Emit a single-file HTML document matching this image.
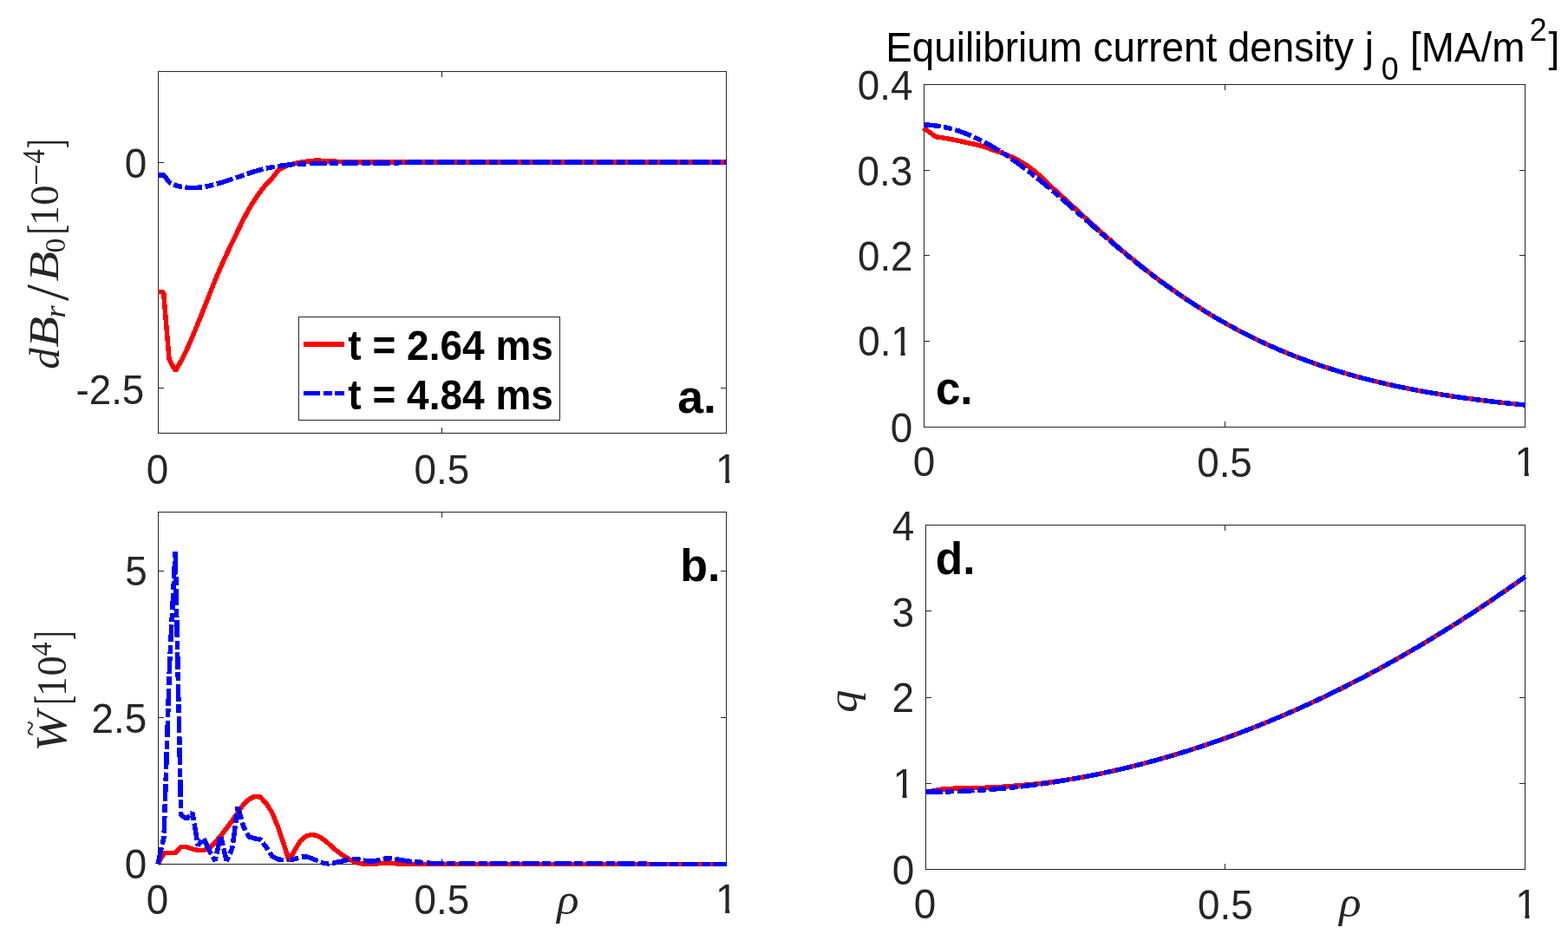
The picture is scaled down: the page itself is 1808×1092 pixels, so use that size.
<!DOCTYPE html>
<html lang="en"><head><meta charset="utf-8"><title>Equilibrium profiles</title>
<style>
html,body{margin:0;padding:0;background:#fff;}
body{width:1808px;height:1092px;overflow:hidden;}
svg{display:block;font-kerning:none;}
</style></head><body>
<svg width="1808" height="1092" viewBox="0 0 1808 1092" role="img" aria-label="Four-panel figure: radial magnetic perturbation, fluctuation energy, equilibrium current density and safety factor versus rho">
<defs><clipPath id="one0"><rect x="-5.00" y="-60.00" width="400.00" height="55.52"/><rect x="-5.00" y="-4.48" width="7.29" height="16.48"/><rect x="11.12" y="-4.48" width="5.05" height="16.48"/><rect x="24.45" y="-4.48" width="400.00" height="16.48"/></clipPath><clipPath id="one1"><rect x="-5.00" y="-60.00" width="400.00" height="55.52"/><rect x="-5.00" y="-4.48" width="45.51" height="16.48"/><rect x="49.35" y="-4.48" width="5.05" height="16.48"/><rect x="62.67" y="-4.48" width="400.00" height="16.48"/></clipPath></defs>
<rect width="1808" height="1092" fill="#ffffff"/>
<g stroke="#262626" stroke-width="1" fill="none" shape-rendering="crispEdges"><rect x="182.5" y="82.5" width="655.0" height="417.0"/><line x1="509.5" y1="499.5" x2="509.5" y2="493.0"/><line x1="509.5" y1="82.5" x2="509.5" y2="89.0"/><line x1="182.5" y1="187.5" x2="189.0" y2="187.5"/><line x1="837.5" y1="187.5" x2="831.0" y2="187.5"/><line x1="182.5" y1="447.5" x2="189.0" y2="447.5"/><line x1="837.5" y1="447.5" x2="831.0" y2="447.5"/></g>
<g stroke="#262626" stroke-width="1" fill="none" shape-rendering="crispEdges"><rect x="182.5" y="590.5" width="655.0" height="406.0"/><line x1="509.5" y1="996.5" x2="509.5" y2="990.0"/><line x1="509.5" y1="590.5" x2="509.5" y2="597.0"/><line x1="182.5" y1="658.5" x2="189.0" y2="658.5"/><line x1="837.5" y1="658.5" x2="831.0" y2="658.5"/><line x1="182.5" y1="827.5" x2="189.0" y2="827.5"/><line x1="837.5" y1="827.5" x2="831.0" y2="827.5"/></g>
<g stroke="#262626" stroke-width="1" fill="none" shape-rendering="crispEdges"><rect x="1065.5" y="97.5" width="693.0" height="395.0"/><line x1="1412.5" y1="492.5" x2="1412.5" y2="486.0"/><line x1="1412.5" y1="97.5" x2="1412.5" y2="104.0"/><line x1="1065.5" y1="393.5" x2="1072.0" y2="393.5"/><line x1="1758.5" y1="393.5" x2="1752.0" y2="393.5"/><line x1="1065.5" y1="294.5" x2="1072.0" y2="294.5"/><line x1="1758.5" y1="294.5" x2="1752.0" y2="294.5"/><line x1="1065.5" y1="196.5" x2="1072.0" y2="196.5"/><line x1="1758.5" y1="196.5" x2="1752.0" y2="196.5"/></g>
<g stroke="#262626" stroke-width="1" fill="none" shape-rendering="crispEdges"><rect x="1067.5" y="605.5" width="691.0" height="397.0"/><line x1="1412.5" y1="1002.5" x2="1412.5" y2="996.0"/><line x1="1412.5" y1="605.5" x2="1412.5" y2="612.0"/><line x1="1067.5" y1="903.5" x2="1074.0" y2="903.5"/><line x1="1758.5" y1="903.5" x2="1752.0" y2="903.5"/><line x1="1067.5" y1="804.5" x2="1074.0" y2="804.5"/><line x1="1758.5" y1="804.5" x2="1752.0" y2="804.5"/><line x1="1067.5" y1="704.5" x2="1074.0" y2="704.5"/><line x1="1758.5" y1="704.5" x2="1752.0" y2="704.5"/></g>
<g shape-rendering="crispEdges">
<path d="M182.00,336.50 L188.60,336.50 L195.00,414.20 L202.30,427.60 L204.43,424.01 L206.55,420.26 L208.68,416.34 L210.80,412.27 L212.93,408.06 L215.06,403.71 L217.18,399.16 L219.31,394.36 L221.43,389.36 L223.56,384.24 L225.69,379.05 L227.81,373.85 L229.94,368.70 L232.07,363.49 L234.19,358.19 L236.32,352.82 L238.44,347.42 L240.57,341.99 L242.70,336.59 L244.82,331.22 L246.95,325.91 L249.07,320.69 L251.20,315.59 L253.33,310.63 L255.45,305.81 L257.58,301.11 L259.70,296.51 L261.83,291.99 L263.96,287.52 L266.08,283.11 L268.21,278.71 L270.33,274.28 L272.46,269.83 L274.59,265.39 L276.71,260.99 L278.84,256.66 L280.97,252.42 L283.09,248.31 L285.22,244.35 L287.34,240.57 L289.47,236.99 L291.60,233.58 L293.72,230.30 L295.85,227.14 L297.97,224.10 L300.10,221.18 L302.23,218.38 L304.35,215.70 L306.48,213.20 L308.60,210.88 L310.73,208.65 L312.86,206.41 L314.98,204.04 L317.11,201.33 L319.23,198.59 L321.36,196.32 L323.49,194.77 L325.61,193.51 L327.74,192.46 L329.87,191.55 L331.99,190.76 L334.12,190.06 L336.24,189.45 L338.37,188.91 L340.50,188.43 L342.62,187.99 L344.75,187.59 L346.87,187.22 L349.00,186.86 L351.13,186.52 L353.25,186.21 L355.38,185.96 L357.50,185.72 L359.63,185.49 L361.76,185.29 L363.88,185.15 L366.01,185.10 L368.13,185.14 L370.26,185.25 L372.39,185.40 L374.51,185.57 L376.64,185.72 L378.77,185.84 L380.89,185.94 L383.02,186.05 L385.14,186.15 L387.27,186.24 L389.40,186.32 L391.52,186.39 L393.65,186.44 L395.77,186.50 L397.90,186.55 L400.03,186.60 L402.15,186.65 L404.28,186.69 L406.40,186.73 L408.53,186.77 L410.66,186.81 L412.78,186.84 L414.91,186.86 L417.03,186.88 L419.16,186.90 L421.29,186.91 L423.41,186.92 L425.54,186.92 L427.67,186.93 L429.79,186.94 L431.92,186.95 L434.04,186.96 L436.17,186.96 L438.30,186.97 L440.42,186.97 L442.55,186.98 L444.67,186.98 L446.80,186.99 L448.93,186.99 L451.05,186.99 L453.18,187.00 L455.30,187.00 L457.43,187.00 L459.56,187.00 L461.68,187.00 L463.81,187.00 L465.93,187.00 L468.06,187.00 L470.19,187.00 L472.31,187.00 L474.44,187.00 L476.57,187.00 L478.69,187.00 L480.82,187.00 L482.94,187.00 L485.07,187.00 L487.20,187.00 L489.32,187.00 L491.45,187.00 L493.57,187.00 L495.70,187.00 L497.83,187.00 L499.95,187.00 L502.08,187.00 L504.20,187.00 L506.33,187.00 L508.46,187.00 L510.58,187.00 L512.71,187.00 L514.83,187.00 L516.96,187.00 L519.09,187.00 L521.21,187.00 L523.34,187.00 L525.47,187.00 L527.59,187.00 L529.72,187.00 L531.84,187.00 L533.97,187.00 L536.10,187.00 L538.22,187.00 L540.35,187.00 L542.47,187.00 L544.60,187.00 L546.73,187.00 L548.85,187.00 L550.98,187.00 L553.10,187.00 L555.23,187.00 L557.36,187.00 L559.48,187.00 L561.61,187.00 L563.73,187.00 L565.86,187.00 L567.99,187.00 L570.11,187.00 L572.24,187.00 L574.37,187.00 L576.49,187.00 L578.62,187.00 L580.74,187.00 L582.87,187.00 L585.00,187.00 L587.12,187.00 L589.25,187.00 L591.37,187.00 L593.50,187.00 L595.63,187.00 L597.75,187.00 L599.88,187.00 L602.00,187.00 L604.13,187.00 L606.26,187.00 L608.38,187.00 L610.51,187.00 L612.63,187.00 L614.76,187.00 L616.89,187.00 L619.01,187.00 L621.14,187.00 L623.27,187.00 L625.39,187.00 L627.52,187.00 L629.64,187.00 L631.77,187.00 L633.90,187.00 L636.02,187.00 L638.15,187.00 L640.27,187.00 L642.40,187.00 L644.53,187.00 L646.65,187.00 L648.78,187.00 L650.90,187.00 L653.03,187.00 L655.16,187.00 L657.28,187.00 L659.41,187.00 L661.53,187.00 L663.66,187.00 L665.79,187.00 L667.91,187.00 L670.04,187.00 L672.17,187.00 L674.29,187.00 L676.42,187.00 L678.54,187.00 L680.67,187.00 L682.80,187.00 L684.92,187.00 L687.05,187.00 L689.17,187.00 L691.30,187.00 L693.43,187.00 L695.55,187.00 L697.68,187.00 L699.80,187.00 L701.93,187.00 L704.06,187.00 L706.18,187.00 L708.31,187.00 L710.43,187.00 L712.56,187.00 L714.69,187.00 L716.81,187.00 L718.94,187.00 L721.07,187.00 L723.19,187.00 L725.32,187.00 L727.44,187.00 L729.57,187.00 L731.70,187.00 L733.82,187.00 L735.95,187.00 L738.07,187.00 L740.20,187.00 L742.33,187.00 L744.45,187.00 L746.58,187.00 L748.70,187.00 L750.83,187.00 L752.96,187.00 L755.08,187.00 L757.21,187.00 L759.33,187.00 L761.46,187.00 L763.59,187.00 L765.71,187.00 L767.84,187.00 L769.97,187.00 L772.09,187.00 L774.22,187.00 L776.34,187.00 L778.47,187.00 L780.60,187.00 L782.72,187.00 L784.85,187.00 L786.97,187.00 L789.10,187.00 L791.23,187.00 L793.35,187.00 L795.48,187.00 L797.60,187.00 L799.73,187.00 L801.86,187.00 L803.98,187.00 L806.11,187.00 L808.23,187.00 L810.36,187.00 L812.49,187.00 L814.61,187.00 L816.74,187.00 L818.87,187.00 L820.99,187.00 L823.12,187.00 L825.24,187.00 L827.37,187.00 L829.50,187.00 L831.62,187.00 L833.75,187.00 L835.87,187.00 L838.00,187.00" fill="none" stroke="#ff0000" stroke-width="5.5" stroke-linejoin="bevel" stroke-linecap="butt"/>
<path d="M182.00,201.90 L189.00,201.90 L195.00,210.20 L197.15,211.45 L199.30,212.54 L201.45,213.42 L203.60,214.09 L205.75,214.67 L207.90,215.15 L210.05,215.51 L212.20,215.80 L214.35,216.07 L216.51,216.31 L218.66,216.48 L220.81,216.58 L222.96,216.59 L225.11,216.51 L227.26,216.36 L229.41,216.16 L231.56,215.92 L233.71,215.66 L235.86,215.39 L238.01,215.03 L240.16,214.58 L242.31,214.07 L244.46,213.51 L246.61,212.92 L248.76,212.33 L250.91,211.75 L253.06,211.14 L255.21,210.49 L257.36,209.81 L259.52,209.12 L261.67,208.42 L263.82,207.72 L265.97,207.03 L268.12,206.31 L270.27,205.59 L272.42,204.86 L274.57,204.13 L276.72,203.40 L278.87,202.68 L281.02,201.96 L283.17,201.23 L285.32,200.48 L287.47,199.74 L289.62,199.01 L291.77,198.30 L293.92,197.61 L296.07,196.97 L298.22,196.38 L300.37,195.80 L302.53,195.24 L304.68,194.70 L306.83,194.19 L308.98,193.70 L311.13,193.24 L313.28,192.81 L315.43,192.43 L317.58,192.06 L319.73,191.72 L321.88,191.39 L324.03,191.08 L326.18,190.80 L328.33,190.55 L330.48,190.32 L332.63,190.12 L334.78,189.92 L336.93,189.73 L339.08,189.55 L341.23,189.39 L343.38,189.24 L345.54,189.11 L347.69,189.00 L349.84,188.91 L351.99,188.83 L354.14,188.76 L356.29,188.70 L358.44,188.64 L360.59,188.59 L362.74,188.54 L364.89,188.50 L367.04,188.45 L369.19,188.41 L371.34,188.38 L373.49,188.34 L375.64,188.30 L377.79,188.26 L379.94,188.23 L382.09,188.19 L384.24,188.16 L386.39,188.13 L388.55,188.10 L390.70,188.07 L392.85,188.05 L395.00,188.03 L397.15,188.01 L399.30,188.00 L401.45,188.00 L403.60,187.99 L405.75,187.98 L407.90,187.98 L410.05,187.97 L412.20,187.97 L414.35,187.97 L416.50,187.97 L418.65,187.96 L420.80,187.96 L422.95,187.96 L425.10,187.96 L427.25,187.96 L429.40,187.95 L431.56,187.95 L433.71,187.95 L435.86,187.95 L438.01,187.94 L440.16,187.94 L442.31,187.94 L444.46,187.93 L446.61,187.93 L448.76,187.92 L450.91,187.92 L453.06,187.91 L455.21,187.90 L457.36,187.86 L459.51,187.79 L461.66,187.70 L463.81,187.59 L465.96,187.48 L468.11,187.37 L470.26,187.29 L472.41,187.21 L474.57,187.12 L476.72,187.05 L478.87,187.01 L481.02,187.00 L483.17,187.00 L485.32,187.00 L487.47,187.00 L489.62,187.00 L491.77,187.00 L493.92,187.00 L496.07,187.00 L498.22,187.00 L500.37,187.00 L502.52,187.00 L504.67,187.00 L506.82,187.00 L508.97,187.00 L511.12,187.00 L513.27,187.00 L515.42,187.00 L517.58,187.00 L519.73,187.00 L521.88,187.00 L524.03,187.00 L526.18,187.00 L528.33,187.00 L530.48,187.00 L532.63,187.00 L534.78,187.00 L536.93,187.00 L539.08,187.00 L541.23,187.00 L543.38,187.00 L545.53,187.00 L547.68,187.00 L549.83,187.00 L551.98,187.00 L554.13,187.00 L556.28,187.00 L558.43,187.00 L560.59,187.00 L562.74,187.00 L564.89,187.00 L567.04,187.00 L569.19,187.00 L571.34,187.00 L573.49,187.00 L575.64,187.00 L577.79,187.00 L579.94,187.00 L582.09,187.00 L584.24,187.00 L586.39,187.00 L588.54,187.00 L590.69,187.00 L592.84,187.00 L594.99,187.00 L597.14,187.00 L599.29,187.00 L601.44,187.00 L603.60,187.00 L605.75,187.00 L607.90,187.00 L610.05,187.00 L612.20,187.00 L614.35,187.00 L616.50,187.00 L618.65,187.00 L620.80,187.00 L622.95,187.00 L625.10,187.00 L627.25,187.00 L629.40,187.00 L631.55,187.00 L633.70,187.00 L635.85,187.00 L638.00,187.00 L640.15,187.00 L642.30,187.00 L644.45,187.00 L646.61,187.00 L648.76,187.00 L650.91,187.00 L653.06,187.00 L655.21,187.00 L657.36,187.00 L659.51,187.00 L661.66,187.00 L663.81,187.00 L665.96,187.00 L668.11,187.00 L670.26,187.00 L672.41,187.00 L674.56,187.00 L676.71,187.00 L678.86,187.00 L681.01,187.00 L683.16,187.00 L685.31,187.00 L687.46,187.00 L689.62,187.00 L691.77,187.00 L693.92,187.00 L696.07,187.00 L698.22,187.00 L700.37,187.00 L702.52,187.00 L704.67,187.00 L706.82,187.00 L708.97,187.00 L711.12,187.00 L713.27,187.00 L715.42,187.00 L717.57,187.00 L719.72,187.00 L721.87,187.00 L724.02,187.00 L726.17,187.00 L728.32,187.00 L730.47,187.00 L732.63,187.00 L734.78,187.00 L736.93,187.00 L739.08,187.00 L741.23,187.00 L743.38,187.00 L745.53,187.00 L747.68,187.00 L749.83,187.00 L751.98,187.00 L754.13,187.00 L756.28,187.00 L758.43,187.00 L760.58,187.00 L762.73,187.00 L764.88,187.00 L767.03,187.00 L769.18,187.00 L771.33,187.00 L773.48,187.00 L775.64,187.00 L777.79,187.00 L779.94,187.00 L782.09,187.00 L784.24,187.00 L786.39,187.00 L788.54,187.00 L790.69,187.00 L792.84,187.00 L794.99,187.00 L797.14,187.00 L799.29,187.00 L801.44,187.00 L803.59,187.00 L805.74,187.00 L807.89,187.00 L810.04,187.00 L812.19,187.00 L814.34,187.00 L816.49,187.00 L818.65,187.00 L820.80,187.00 L822.95,187.00 L825.10,187.00 L827.25,187.00 L829.40,187.00 L831.55,187.00 L833.70,187.00 L835.85,187.00 L838.00,187.00" fill="none" stroke="#0000ff" stroke-width="5.5" stroke-linejoin="bevel" stroke-linecap="butt" stroke-dasharray="19.75 3.5 10 3.5" stroke-dashoffset="0"/>
<path d="M182.00,996.50 L189.05,983.70 L195.60,983.70 L202.15,983.40 L208.70,976.30 L215.25,976.80 L221.80,979.00 L228.35,980.40 L234.90,980.40 L241.45,977.90 L248.00,971.30 L254.55,964.00 L261.10,955.20 L267.65,946.50 L274.20,937.20 L280.75,927.80 L287.30,921.60 L293.85,918.40 L300.40,919.20 L306.95,926.40 L313.50,936.60 L320.05,952.30 L326.60,971.40 L333.15,992.50 L339.70,980.80 L346.25,969.80 L352.80,964.20 L359.35,962.40 L365.90,963.80 L372.45,967.50 L379.00,973.00 L385.55,979.00 L392.10,984.00 L398.65,988.30 L405.20,992.20 L411.75,994.80 L418.30,996.10 L424.85,996.50 L431.40,996.20 L437.95,995.60 L444.50,995.20 L451.05,995.40 L457.60,995.90 L464.15,996.30 L470.70,996.50 L838.00,996.50" fill="none" stroke="#ff0000" stroke-width="5.5" stroke-linejoin="bevel" stroke-linecap="butt"/>
<path d="M182.00,996.50 L189.05,965.00 L195.60,765.00 L202.15,636.00 L208.70,940.00 L215.25,944.00 L214.10,943.30 L215.25,944.00 L221.80,937.00 L228.35,975.00 L234.90,966.80 L241.45,981.00 L248.00,992.50 L254.55,963.50 L261.10,992.50 L267.65,979.00 L274.20,930.60 L280.75,953.10 L287.30,965.00 L293.85,966.90 L300.40,968.20 L306.95,976.90 L313.50,987.00 L320.05,990.70 L326.60,991.60 L333.15,991.60" fill="none" stroke="#0000ff" stroke-width="5.5" stroke-linejoin="bevel" stroke-linecap="butt" stroke-dasharray="19.75 3.5 10 3.5" stroke-dashoffset="0"/>
<path d="M333.15,991.60 L339.70,990.70 L346.25,988.30 L352.80,987.80 L359.35,989.80 L365.90,992.50 L372.45,995.30 L379.00,996.00 L385.55,995.00 L392.10,993.50 L398.65,992.00 L405.20,990.80 L411.75,990.50 L418.30,992.00 L424.85,993.00 L431.40,992.80 L437.95,991.50 L444.50,990.00 L451.05,989.80 L457.60,990.80 L464.15,992.00 L470.70,993.00 L477.25,993.70 L483.80,994.20 L490.35,994.80 L496.90,995.30 L503.45,995.50 L700.00,995.50 L760.00,996.50 L838.00,996.50" fill="none" stroke="#0000ff" stroke-width="5.5" stroke-linejoin="bevel" stroke-linecap="butt" stroke-dasharray="19.75 3.5 10 3.5" stroke-dashoffset="21.75"/>
<path d="M1065.00,147.50 L1079.00,157.80 L1081.02,158.06 L1083.04,158.33 L1085.06,158.63 L1087.08,158.95 L1089.09,159.29 L1091.11,159.63 L1093.13,159.99 L1095.15,160.36 L1097.17,160.74 L1099.19,161.12 L1101.21,161.52 L1103.23,161.94 L1105.25,162.37 L1107.26,162.82 L1109.28,163.27 L1111.30,163.72 L1113.32,164.17 L1115.34,164.60 L1117.36,165.02 L1119.38,165.42 L1121.40,165.82 L1123.42,166.24 L1125.43,166.67 L1127.45,167.14 L1129.47,167.65 L1131.49,168.21 L1133.51,168.84 L1135.53,169.51 L1137.55,170.21 L1139.57,170.92 L1141.58,171.63 L1143.60,172.33 L1145.62,173.01 L1147.64,173.67 L1149.66,174.33 L1151.68,175.01 L1153.70,175.72 L1155.72,176.47 L1157.74,177.25 L1159.75,178.06 L1161.77,178.90 L1163.79,179.78 L1165.81,180.69 L1167.83,181.65 L1169.85,182.64 L1171.87,183.67 L1173.89,184.74 L1175.91,185.85 L1177.92,187.00 L1179.94,188.20 L1181.96,189.45 L1183.98,190.75 L1186.00,192.14 L1188.02,193.62 L1190.04,195.18 L1192.06,196.80 L1194.08,198.47 L1196.09,200.16 L1198.11,201.92 L1200.13,203.76 L1202.15,205.66 L1204.17,207.60 L1206.19,209.56 L1208.21,211.52 L1210.23,213.46 L1212.25,215.36 L1214.26,217.22 L1216.28,219.08 L1218.30,220.92 L1220.32,222.77 L1222.34,224.60 L1224.36,226.44 L1226.38,228.28 L1228.40,230.12 L1230.42,231.96 L1232.43,233.81 L1234.45,235.66 L1236.47,237.52 L1238.49,239.38 L1240.51,241.24 L1242.53,243.10 L1244.55,244.96 L1246.57,246.81 L1248.58,248.67 L1250.60,250.52 L1252.62,252.36 L1254.64,254.19 L1256.66,256.02 L1258.68,257.84 L1260.70,259.65 L1262.72,261.46 L1264.74,263.27 L1266.75,265.08 L1268.77,266.88 L1270.79,268.69 L1272.81,270.49 L1274.83,272.28 L1276.85,274.07 L1278.87,275.86 L1280.89,277.64 L1282.91,279.41 L1284.92,281.18 L1286.94,282.93 L1288.96,284.68 L1290.98,286.41 L1293.00,288.14 L1295.02,289.85 L1297.04,291.54 L1299.06,293.23 L1301.08,294.90 L1303.09,296.56 L1305.11,298.22 L1307.13,299.87 L1309.15,301.51 L1311.17,303.15 L1313.19,304.78 L1315.21,306.39 L1317.23,308.00 L1319.25,309.60 L1321.26,311.19 L1323.28,312.77 L1325.30,314.34 L1327.32,315.90 L1329.34,317.44 L1331.36,318.97 L1333.38,320.49 L1335.40,321.99 L1337.42,323.48 L1339.43,324.95 L1341.45,326.41 L1343.47,327.86 L1345.49,329.31 L1347.51,330.75 L1349.53,332.18 L1351.55,333.61 L1353.57,335.03 L1355.58,336.44 L1357.60,337.84 L1359.62,339.24 L1361.64,340.63 L1363.66,342.01 L1365.68,343.38 L1367.70,344.74 L1369.72,346.10 L1371.74,347.45 L1373.75,348.78 L1375.77,350.11 L1377.79,351.43 L1379.81,352.74 L1381.83,354.04 L1383.85,355.33 L1385.87,356.61 L1387.89,357.88 L1389.91,359.14 L1391.92,360.39 L1393.94,361.63 L1395.96,362.85 L1397.98,364.07 L1400.00,365.28 L1401.61,366.22 L1403.34,367.23 L1405.07,368.24 L1406.80,369.24 L1408.54,370.23 L1410.27,371.22 L1412.00,372.20 L1413.73,373.17 L1415.46,374.14 L1417.20,375.10 L1418.93,376.05 L1420.66,377.00 L1422.39,377.94 L1424.13,378.87 L1425.86,379.80 L1427.59,380.72 L1429.33,381.63 L1431.06,382.54 L1432.79,383.44 L1434.52,384.33 L1436.26,385.21 L1437.99,386.09 L1439.72,386.96 L1441.45,387.83 L1443.18,388.69 L1444.92,389.54 L1446.65,390.39 L1448.38,391.23 L1450.12,392.06 L1451.85,392.88 L1453.58,393.70 L1455.31,394.52 L1457.05,395.32 L1458.78,396.12 L1460.51,396.92 L1462.24,397.71 L1463.97,398.49 L1465.71,399.26 L1467.44,400.03 L1469.17,400.79 L1470.90,401.55 L1472.64,402.30 L1474.37,403.04 L1476.10,403.78 L1477.84,404.51 L1479.57,405.24 L1481.30,405.96 L1483.03,406.67 L1484.76,407.38 L1486.50,408.08 L1488.23,408.78 L1489.96,409.47 L1491.69,410.16 L1493.43,410.84 L1495.16,411.51 L1496.89,412.18 L1498.62,412.84 L1500.36,413.50 L1502.09,414.15 L1503.82,414.79 L1505.56,415.44 L1507.29,416.07 L1509.02,416.70 L1510.75,417.32 L1512.49,417.94 L1514.22,418.56 L1515.95,419.17 L1517.68,419.77 L1519.41,420.37 L1521.15,420.96 L1522.88,421.55 L1524.61,422.13 L1526.35,422.71 L1528.08,423.28 L1529.81,423.85 L1531.54,424.41 L1533.28,424.97 L1535.01,425.52 L1536.74,426.07 L1538.47,426.61 L1540.20,427.15 L1541.94,427.68 L1543.67,428.21 L1545.40,428.73 L1547.13,429.25 L1548.87,429.77 L1550.60,430.28 L1552.33,430.78 L1554.07,431.28 L1555.80,431.78 L1557.53,432.27 L1559.26,432.76 L1560.99,433.24 L1562.73,433.72 L1564.46,434.20 L1566.19,434.67 L1567.92,435.13 L1569.66,435.60 L1571.39,436.06 L1573.12,436.51 L1574.86,436.96 L1576.59,437.41 L1578.32,437.85 L1580.05,438.29 L1581.78,438.72 L1583.52,439.15 L1585.25,439.58 L1586.98,440.00 L1588.72,440.42 L1590.45,440.83 L1592.18,441.25 L1593.91,441.65 L1595.64,442.06 L1597.38,442.46 L1599.11,442.85 L1600.84,443.25 L1602.58,443.63 L1604.31,444.02 L1606.04,444.40 L1607.77,444.78 L1609.51,445.15 L1611.24,445.52 L1612.97,445.89 L1614.70,446.26 L1616.43,446.62 L1618.17,446.97 L1619.90,447.33 L1621.63,447.68 L1623.37,448.02 L1625.10,448.37 L1626.83,448.71 L1628.56,449.05 L1630.30,449.38 L1632.03,449.71 L1633.76,450.04 L1635.49,450.36 L1637.22,450.68 L1638.96,451.00 L1640.69,451.31 L1642.42,451.62 L1644.15,451.93 L1645.89,452.24 L1647.62,452.54 L1649.35,452.84 L1651.09,453.14 L1652.82,453.43 L1654.55,453.72 L1656.28,454.01 L1658.01,454.30 L1659.75,454.58 L1661.48,454.86 L1663.21,455.14 L1664.95,455.41 L1666.68,455.68 L1668.41,455.95 L1670.14,456.22 L1671.88,456.49 L1673.61,456.75 L1675.34,457.01 L1677.07,457.26 L1678.80,457.52 L1680.54,457.77 L1682.27,458.02 L1684.00,458.27 L1685.74,458.52 L1687.47,458.76 L1689.20,459.00 L1690.93,459.24 L1692.66,459.48 L1694.40,459.71 L1696.13,459.94 L1697.86,460.17 L1699.60,460.40 L1701.33,460.63 L1703.06,460.85 L1704.79,461.07 L1706.53,461.29 L1708.26,461.51 L1709.99,461.72 L1711.72,461.94 L1713.45,462.15 L1715.19,462.36 L1716.92,462.56 L1718.65,462.77 L1720.38,462.97 L1722.12,463.17 L1723.85,463.37 L1725.58,463.57 L1727.32,463.77 L1729.05,463.96 L1730.78,464.15 L1732.51,464.34 L1734.24,464.53 L1735.98,464.71 L1737.71,464.90 L1739.44,465.08 L1741.17,465.26 L1742.91,465.44 L1744.64,465.62 L1746.37,465.79 L1748.11,465.97 L1749.84,466.14 L1751.57,466.31 L1753.30,466.48 L1755.03,466.65 L1756.77,466.81 L1759.00,466.98" fill="none" stroke="#ff0000" stroke-width="5.5" stroke-linejoin="bevel" stroke-linecap="butt"/>
<path d="M1065.00,144.01 L1067.23,144.05 L1068.96,144.12 L1070.70,144.21 L1072.43,144.33 L1074.16,144.46 L1075.89,144.63 L1077.63,144.81 L1079.36,145.03 L1081.09,145.26 L1082.83,145.52 L1084.56,145.80 L1086.29,146.11 L1088.02,146.44 L1089.76,146.79 L1091.49,147.17 L1093.22,147.57 L1094.95,147.99 L1096.68,148.44 L1098.42,148.91 L1100.15,149.40 L1101.88,149.92 L1103.62,150.46 L1105.35,151.02 L1107.08,151.61 L1108.81,152.22 L1110.55,152.85 L1112.28,153.50 L1114.01,154.17 L1115.74,154.87 L1117.47,155.59 L1119.21,156.32 L1120.94,157.08 L1122.67,157.85 L1124.40,158.65 L1126.14,159.46 L1127.87,160.30 L1129.60,161.15 L1131.34,162.01 L1133.07,162.90 L1134.80,163.80 L1136.53,164.72 L1138.27,165.66 L1140.00,166.61 L1141.73,167.58 L1143.46,168.57 L1145.19,169.58 L1146.93,170.60 L1148.66,171.63 L1150.39,172.69 L1152.12,173.76 L1153.86,174.84 L1155.59,175.94 L1157.32,177.06 L1159.06,178.19 L1160.79,179.33 L1162.52,180.49 L1164.25,181.67 L1165.98,182.85 L1167.72,184.06 L1169.45,185.27 L1171.18,186.50 L1172.91,187.74 L1174.65,188.99 L1176.38,190.26 L1178.11,191.54 L1179.85,192.83 L1181.58,194.13 L1183.31,195.44 L1185.04,196.77 L1186.78,198.10 L1188.51,199.45 L1190.24,200.80 L1191.97,202.17 L1193.70,203.55 L1195.44,204.94 L1197.17,206.33 L1198.90,207.74 L1200.63,209.15 L1202.37,210.57 L1204.10,212.00 L1205.83,213.44 L1207.57,214.88 L1209.30,216.33 L1211.03,217.79 L1212.76,219.25 L1214.49,220.72 L1216.23,222.20 L1217.96,223.68 L1219.69,225.16 L1221.42,226.65 L1223.16,228.15 L1224.89,229.64 L1226.62,231.15 L1228.36,232.65 L1230.09,234.16 L1231.82,235.67 L1233.55,237.18 L1235.29,238.69 L1237.02,240.21 L1238.75,241.72 L1240.48,243.24 L1242.21,244.76 L1243.95,246.28 L1245.68,247.81 L1247.41,249.33 L1249.14,250.86 L1250.88,252.39 L1252.61,253.92 L1254.34,255.44 L1256.08,256.97 L1257.81,258.50 L1259.54,260.02 L1261.27,261.55 L1263.01,263.07 L1264.74,264.59 L1266.47,266.10 L1268.20,267.62 L1269.93,269.13 L1271.67,270.64 L1273.40,272.14 L1275.13,273.64 L1276.87,275.14 L1278.60,276.63 L1280.33,278.12 L1282.06,279.60 L1283.80,281.08 L1285.53,282.55 L1287.26,284.02 L1288.99,285.48 L1290.72,286.93 L1292.46,288.38 L1294.19,289.82 L1295.92,291.25 L1297.65,292.68 L1299.39,294.11 L1301.12,295.52 L1302.85,296.93 L1304.59,298.34 L1306.32,299.74 L1308.05,301.13 L1309.78,302.52 L1311.51,303.90 L1313.25,305.27 L1314.98,306.64 L1316.71,308.00 L1318.44,309.35 L1320.18,310.70 L1321.91,312.04 L1323.64,313.37 L1325.38,314.70 L1327.11,316.02 L1328.84,317.34 L1330.57,318.65 L1332.31,319.95 L1334.04,321.25 L1335.77,322.54 L1337.50,323.82 L1339.24,325.10 L1340.97,326.37 L1342.70,327.63 L1344.43,328.89 L1346.16,330.14 L1347.90,331.38 L1349.63,332.61 L1351.36,333.84 L1353.10,335.06 L1354.83,336.27 L1356.56,337.47 L1358.29,338.66 L1360.03,339.85 L1361.76,341.03 L1363.49,342.20 L1365.22,343.36 L1366.95,344.52 L1368.69,345.67 L1370.42,346.82 L1372.15,347.95 L1373.88,349.08 L1375.62,350.21 L1377.35,351.33 L1379.08,352.44 L1380.82,353.54 L1382.55,354.64 L1384.28,355.73 L1386.01,356.81 L1387.74,357.88 L1389.48,358.95 L1391.21,360.01 L1392.94,361.06 L1394.67,362.11 L1396.41,363.14 L1398.14,364.18 L1399.87,365.20 L1401.61,366.22 L1403.34,367.23 L1405.07,368.24 L1406.80,369.24 L1408.54,370.23 L1410.27,371.22 L1412.00,372.20 L1413.73,373.17 L1415.46,374.14 L1417.20,375.10 L1418.93,376.05 L1420.66,377.00 L1422.39,377.94 L1424.13,378.87 L1425.86,379.80 L1427.59,380.72 L1429.33,381.63 L1431.06,382.54 L1432.79,383.44 L1434.52,384.33 L1436.26,385.21 L1437.99,386.09 L1439.72,386.96 L1441.45,387.83 L1443.18,388.69 L1444.92,389.54 L1446.65,390.39 L1448.38,391.23 L1450.12,392.06 L1451.85,392.88 L1453.58,393.70 L1455.31,394.52 L1457.05,395.32 L1458.78,396.12 L1460.51,396.92 L1462.24,397.71 L1463.97,398.49 L1465.71,399.26 L1467.44,400.03 L1469.17,400.79 L1470.90,401.55 L1472.64,402.30 L1474.37,403.04 L1476.10,403.78 L1477.84,404.51 L1479.57,405.24 L1481.30,405.96 L1483.03,406.67 L1484.76,407.38 L1486.50,408.08 L1488.23,408.78 L1489.96,409.47 L1491.69,410.16 L1493.43,410.84 L1495.16,411.51 L1496.89,412.18 L1498.62,412.84 L1500.36,413.50 L1502.09,414.15 L1503.82,414.79 L1505.56,415.44 L1507.29,416.07 L1509.02,416.70 L1510.75,417.32 L1512.49,417.94 L1514.22,418.56 L1515.95,419.17 L1517.68,419.77 L1519.41,420.37 L1521.15,420.96 L1522.88,421.55 L1524.61,422.13 L1526.35,422.71 L1528.08,423.28 L1529.81,423.85 L1531.54,424.41 L1533.28,424.97 L1535.01,425.52 L1536.74,426.07 L1538.47,426.61 L1540.20,427.15 L1541.94,427.68 L1543.67,428.21 L1545.40,428.73 L1547.13,429.25 L1548.87,429.77 L1550.60,430.28 L1552.33,430.78 L1554.07,431.28 L1555.80,431.78 L1557.53,432.27 L1559.26,432.76 L1560.99,433.24 L1562.73,433.72 L1564.46,434.20 L1566.19,434.67 L1567.92,435.13 L1569.66,435.60 L1571.39,436.06 L1573.12,436.51 L1574.86,436.96 L1576.59,437.41 L1578.32,437.85 L1580.05,438.29 L1581.78,438.72 L1583.52,439.15 L1585.25,439.58 L1586.98,440.00 L1588.72,440.42 L1590.45,440.83 L1592.18,441.25 L1593.91,441.65 L1595.64,442.06 L1597.38,442.46 L1599.11,442.85 L1600.84,443.25 L1602.58,443.63 L1604.31,444.02 L1606.04,444.40 L1607.77,444.78 L1609.51,445.15 L1611.24,445.52 L1612.97,445.89 L1614.70,446.26 L1616.43,446.62 L1618.17,446.97 L1619.90,447.33 L1621.63,447.68 L1623.37,448.02 L1625.10,448.37 L1626.83,448.71 L1628.56,449.05 L1630.30,449.38 L1632.03,449.71 L1633.76,450.04 L1635.49,450.36 L1637.22,450.68 L1638.96,451.00 L1640.69,451.31 L1642.42,451.62 L1644.15,451.93 L1645.89,452.24 L1647.62,452.54 L1649.35,452.84 L1651.09,453.14 L1652.82,453.43 L1654.55,453.72 L1656.28,454.01 L1658.01,454.30 L1659.75,454.58 L1661.48,454.86 L1663.21,455.14 L1664.95,455.41 L1666.68,455.68 L1668.41,455.95 L1670.14,456.22 L1671.88,456.49 L1673.61,456.75 L1675.34,457.01 L1677.07,457.26 L1678.80,457.52 L1680.54,457.77 L1682.27,458.02 L1684.00,458.27 L1685.74,458.52 L1687.47,458.76 L1689.20,459.00 L1690.93,459.24 L1692.66,459.48 L1694.40,459.71 L1696.13,459.94 L1697.86,460.17 L1699.60,460.40 L1701.33,460.63 L1703.06,460.85 L1704.79,461.07 L1706.53,461.29 L1708.26,461.51 L1709.99,461.72 L1711.72,461.94 L1713.45,462.15 L1715.19,462.36 L1716.92,462.56 L1718.65,462.77 L1720.38,462.97 L1722.12,463.17 L1723.85,463.37 L1725.58,463.57 L1727.32,463.77 L1729.05,463.96 L1730.78,464.15 L1732.51,464.34 L1734.24,464.53 L1735.98,464.71 L1737.71,464.90 L1739.44,465.08 L1741.17,465.26 L1742.91,465.44 L1744.64,465.62 L1746.37,465.79 L1748.11,465.97 L1749.84,466.14 L1751.57,466.31 L1753.30,466.48 L1755.03,466.65 L1756.77,466.81 L1759.00,466.98" fill="none" stroke="#0000ff" stroke-width="5.5" stroke-linejoin="bevel" stroke-linecap="butt" stroke-dasharray="19.75 3.5 10 3.5" stroke-dashoffset="0"/>
<path d="M1067.00,913.17 L1069.23,913.12 L1070.95,912.97 L1072.68,912.76 L1074.41,912.35 L1076.14,911.91 L1077.87,911.51 L1079.59,911.13 L1081.32,910.83 L1083.05,910.58 L1084.78,910.35 L1086.50,910.14 L1088.23,909.96 L1089.96,909.81 L1091.68,909.69 L1093.41,909.58 L1095.14,909.47 L1096.87,909.37 L1098.60,909.28 L1100.32,909.22 L1102.05,909.16 L1103.78,909.11 L1105.51,909.06 L1107.23,909.02 L1108.96,908.97 L1110.69,908.92 L1112.41,908.87 L1114.14,908.83 L1115.87,908.79 L1117.60,908.75 L1119.33,908.71 L1121.05,908.68 L1122.78,908.64 L1124.51,908.60 L1126.23,908.55 L1127.96,908.51 L1129.69,908.46 L1131.42,908.40 L1133.14,908.34 L1134.87,908.29 L1136.60,908.23 L1138.33,908.17 L1140.06,908.10 L1141.78,908.03 L1143.51,907.96 L1145.24,907.89 L1146.96,907.80 L1148.69,907.71 L1150.42,907.61 L1152.15,907.51 L1153.88,907.40 L1155.60,907.28 L1157.33,907.16 L1159.06,907.03 L1160.79,906.90 L1162.51,906.77 L1164.24,906.64 L1165.97,906.51 L1167.69,906.38 L1169.42,906.25 L1171.15,906.11 L1172.88,905.98 L1174.61,905.85 L1176.33,905.71 L1178.06,905.57 L1179.79,905.42 L1181.52,905.26 L1183.24,905.10 L1184.97,904.94 L1186.70,904.77 L1188.42,904.60 L1190.15,904.43 L1191.88,904.25 L1193.61,904.07 L1195.34,903.88 L1197.06,903.69 L1198.79,903.49 L1200.52,903.29 L1202.24,903.09 L1203.97,902.88 L1205.70,902.66 L1207.43,902.45 L1209.15,902.23 L1210.88,902.01 L1212.61,901.78 L1214.34,901.55 L1216.07,901.31 L1217.79,901.07 L1219.52,900.83 L1221.25,900.58 L1222.97,900.33 L1224.70,900.07 L1226.43,899.81 L1228.16,899.54 L1229.88,899.27 L1231.61,898.99 L1233.34,898.72 L1235.07,898.43 L1236.80,898.15 L1238.52,897.86 L1240.25,897.56 L1241.98,897.27 L1243.70,896.97 L1245.43,896.66 L1247.16,896.35 L1248.89,896.04 L1250.62,895.72 L1252.34,895.40 L1254.07,895.08 L1255.80,894.74 L1257.53,894.41 L1259.25,894.07 L1260.98,893.72 L1262.71,893.37 L1264.43,893.02 L1266.16,892.67 L1267.89,892.31 L1269.62,891.95 L1271.35,891.58 L1273.07,891.21 L1274.80,890.84 L1276.53,890.47 L1278.26,890.09 L1279.98,889.71 L1281.71,889.33 L1283.44,888.94 L1285.16,888.55 L1286.89,888.16 L1288.62,887.77 L1290.35,887.37 L1292.08,886.97 L1293.80,886.56 L1295.53,886.15 L1297.26,885.74 L1298.99,885.33 L1300.71,884.91 L1302.44,884.49 L1304.17,884.07 L1305.89,883.64 L1307.62,883.21 L1309.35,882.78 L1311.08,882.34 L1312.81,881.91 L1314.53,881.46 L1316.26,881.02 L1317.99,880.57 L1319.71,880.12 L1321.44,879.66 L1323.17,879.21 L1324.90,878.75 L1326.62,878.28 L1328.35,877.82 L1330.08,877.35 L1331.81,876.87 L1333.54,876.40 L1335.26,875.92 L1336.99,875.44 L1338.72,874.95 L1340.44,874.46 L1342.17,873.97 L1343.90,873.48 L1345.63,872.98 L1347.36,872.48 L1349.08,871.97 L1350.81,871.47 L1352.54,870.95 L1354.27,870.44 L1355.99,869.93 L1357.72,869.41 L1359.45,868.88 L1361.17,868.36 L1362.90,867.83 L1364.63,867.30 L1366.36,866.76 L1368.09,866.22 L1369.81,865.68 L1371.54,865.14 L1373.27,864.59 L1374.99,864.04 L1376.72,863.49 L1378.45,862.93 L1380.18,862.37 L1381.90,861.81 L1383.63,861.24 L1385.36,860.67 L1387.09,860.10 L1388.82,859.52 L1390.54,858.95 L1392.27,858.36 L1394.00,857.78 L1395.72,857.19 L1397.45,856.60 L1399.18,856.01 L1400.91,855.41 L1402.63,854.81 L1404.36,854.21 L1406.09,853.60 L1407.82,852.99 L1409.55,852.38 L1411.27,851.76 L1413.00,851.14 L1414.73,850.52 L1416.45,849.90 L1418.18,849.27 L1419.91,848.64 L1421.64,848.00 L1423.37,847.37 L1425.09,846.73 L1426.82,846.08 L1428.55,845.44 L1430.28,844.79 L1432.00,844.13 L1433.73,843.48 L1435.46,842.82 L1437.18,842.16 L1438.91,841.49 L1440.64,840.82 L1442.37,840.15 L1444.10,839.48 L1445.82,838.80 L1447.55,838.12 L1449.28,837.43 L1451.01,836.75 L1452.73,836.06 L1454.46,835.36 L1456.19,834.67 L1457.91,833.97 L1459.64,833.26 L1461.37,832.56 L1463.10,831.85 L1464.83,831.14 L1466.55,830.42 L1468.28,829.71 L1470.01,828.98 L1471.73,828.26 L1473.46,827.53 L1475.19,826.80 L1476.92,826.07 L1478.64,825.33 L1480.37,824.59 L1482.10,823.85 L1483.83,823.10 L1485.56,822.36 L1487.28,821.60 L1489.01,820.85 L1490.74,820.09 L1492.46,819.33 L1494.19,818.56 L1495.92,817.80 L1497.65,817.03 L1499.38,816.25 L1501.10,815.47 L1502.83,814.69 L1504.56,813.91 L1506.29,813.12 L1508.01,812.34 L1509.74,811.54 L1511.47,810.75 L1513.19,809.95 L1514.92,809.15 L1516.65,808.34 L1518.38,807.53 L1520.11,806.72 L1521.83,805.91 L1523.56,805.09 L1525.29,804.27 L1527.02,803.45 L1528.74,802.62 L1530.47,801.79 L1532.20,800.96 L1533.92,800.12 L1535.65,799.28 L1537.38,798.44 L1539.11,797.60 L1540.84,796.75 L1542.56,795.90 L1544.29,795.04 L1546.02,794.19 L1547.75,793.32 L1549.47,792.46 L1551.20,791.59 L1552.93,790.72 L1554.65,789.85 L1556.38,788.97 L1558.11,788.10 L1559.84,787.21 L1561.57,786.33 L1563.29,785.44 L1565.02,784.55 L1566.75,783.65 L1568.47,782.75 L1570.20,781.85 L1571.93,780.95 L1573.66,780.04 L1575.38,779.13 L1577.11,778.22 L1578.84,777.30 L1580.57,776.38 L1582.30,775.46 L1584.02,774.53 L1585.75,773.60 L1587.48,772.67 L1589.20,771.74 L1590.93,770.80 L1592.66,769.86 L1594.39,768.91 L1596.12,767.97 L1597.84,767.02 L1599.57,766.06 L1601.30,765.10 L1603.03,764.14 L1604.75,763.18 L1606.48,762.22 L1608.21,761.25 L1609.93,760.27 L1611.66,759.30 L1613.39,758.32 L1615.12,757.34 L1616.85,756.35 L1618.57,755.37 L1620.30,754.38 L1622.03,753.38 L1623.76,752.38 L1625.48,751.38 L1627.21,750.38 L1628.94,749.37 L1630.66,748.36 L1632.39,747.35 L1634.12,746.34 L1635.85,745.32 L1637.58,744.29 L1639.30,743.27 L1641.03,742.24 L1642.76,741.21 L1644.49,740.18 L1646.21,739.14 L1647.94,738.10 L1649.67,737.05 L1651.39,736.01 L1653.12,734.96 L1654.85,733.90 L1656.58,732.85 L1658.30,731.79 L1660.03,730.73 L1661.76,729.66 L1663.49,728.59 L1665.22,727.52 L1666.94,726.45 L1668.67,725.37 L1670.40,724.29 L1672.12,723.20 L1673.85,722.12 L1675.58,721.03 L1677.31,719.93 L1679.03,718.84 L1680.76,717.74 L1682.49,716.64 L1684.22,715.53 L1685.95,714.42 L1687.67,713.31 L1689.40,712.19 L1691.13,711.08 L1692.86,709.95 L1694.58,708.83 L1696.31,707.70 L1698.04,706.57 L1699.76,705.44 L1701.49,704.30 L1703.22,703.16 L1704.95,702.02 L1706.68,700.87 L1708.40,699.72 L1710.13,698.57 L1711.86,697.42 L1713.59,696.26 L1715.31,695.10 L1717.04,693.93 L1718.77,692.76 L1720.49,691.59 L1722.22,690.42 L1723.95,689.24 L1725.68,688.06 L1727.41,686.88 L1729.13,685.69 L1730.86,684.50 L1732.59,683.31 L1734.32,682.11 L1736.04,680.92 L1737.77,679.71 L1739.50,678.51 L1741.22,677.30 L1742.95,676.09 L1744.68,674.88 L1746.41,673.66 L1748.13,672.44 L1749.86,671.21 L1751.59,669.99 L1753.32,668.76 L1755.05,667.53 L1756.77,666.29 L1759.00,665.05" fill="none" stroke="#ff0000" stroke-width="5.5" stroke-linejoin="bevel" stroke-linecap="butt"/>
<path d="M1067.00,913.17 L1069.23,913.17 L1070.95,913.17 L1072.68,913.16 L1074.41,913.15 L1076.14,913.14 L1077.87,913.12 L1079.59,913.10 L1081.32,913.08 L1083.05,913.05 L1084.78,913.02 L1086.50,912.99 L1088.23,912.95 L1089.96,912.91 L1091.68,912.87 L1093.41,912.83 L1095.14,912.78 L1096.87,912.73 L1098.60,912.67 L1100.32,912.62 L1102.05,912.55 L1103.78,912.49 L1105.51,912.42 L1107.23,912.35 L1108.96,912.28 L1110.69,912.21 L1112.41,912.13 L1114.14,912.04 L1115.87,911.96 L1117.60,911.87 L1119.33,911.78 L1121.05,911.68 L1122.78,911.59 L1124.51,911.49 L1126.23,911.38 L1127.96,911.28 L1129.69,911.17 L1131.42,911.05 L1133.14,910.94 L1134.87,910.82 L1136.60,910.69 L1138.33,910.57 L1140.06,910.44 L1141.78,910.31 L1143.51,910.17 L1145.24,910.03 L1146.96,909.89 L1148.69,909.75 L1150.42,909.60 L1152.15,909.45 L1153.88,909.30 L1155.60,909.14 L1157.33,908.98 L1159.06,908.82 L1160.79,908.65 L1162.51,908.48 L1164.24,908.31 L1165.97,908.14 L1167.69,907.96 L1169.42,907.78 L1171.15,907.59 L1172.88,907.40 L1174.61,907.21 L1176.33,907.02 L1178.06,906.82 L1179.79,906.62 L1181.52,906.42 L1183.24,906.21 L1184.97,906.00 L1186.70,905.79 L1188.42,905.58 L1190.15,905.36 L1191.88,905.14 L1193.61,904.91 L1195.34,904.68 L1197.06,904.45 L1198.79,904.22 L1200.52,903.98 L1202.24,903.74 L1203.97,903.50 L1205.70,903.25 L1207.43,903.00 L1209.15,902.75 L1210.88,902.49 L1212.61,902.23 L1214.34,901.97 L1216.07,901.71 L1217.79,901.44 L1219.52,901.17 L1221.25,900.89 L1222.97,900.61 L1224.70,900.33 L1226.43,900.05 L1228.16,899.76 L1229.88,899.47 L1231.61,899.18 L1233.34,898.88 L1235.07,898.58 L1236.80,898.28 L1238.52,897.98 L1240.25,897.67 L1241.98,897.36 L1243.70,897.04 L1245.43,896.72 L1247.16,896.40 L1248.89,896.08 L1250.62,895.75 L1252.34,895.42 L1254.07,895.09 L1255.80,894.75 L1257.53,894.41 L1259.25,894.07 L1260.98,893.72 L1262.71,893.37 L1264.43,893.02 L1266.16,892.67 L1267.89,892.31 L1269.62,891.95 L1271.35,891.58 L1273.07,891.21 L1274.80,890.84 L1276.53,890.47 L1278.26,890.09 L1279.98,889.71 L1281.71,889.33 L1283.44,888.94 L1285.16,888.55 L1286.89,888.16 L1288.62,887.77 L1290.35,887.37 L1292.08,886.97 L1293.80,886.56 L1295.53,886.15 L1297.26,885.74 L1298.99,885.33 L1300.71,884.91 L1302.44,884.49 L1304.17,884.07 L1305.89,883.64 L1307.62,883.21 L1309.35,882.78 L1311.08,882.34 L1312.81,881.91 L1314.53,881.46 L1316.26,881.02 L1317.99,880.57 L1319.71,880.12 L1321.44,879.66 L1323.17,879.21 L1324.90,878.75 L1326.62,878.28 L1328.35,877.82 L1330.08,877.35 L1331.81,876.87 L1333.54,876.40 L1335.26,875.92 L1336.99,875.44 L1338.72,874.95 L1340.44,874.46 L1342.17,873.97 L1343.90,873.48 L1345.63,872.98 L1347.36,872.48 L1349.08,871.97 L1350.81,871.47 L1352.54,870.95 L1354.27,870.44 L1355.99,869.93 L1357.72,869.41 L1359.45,868.88 L1361.17,868.36 L1362.90,867.83 L1364.63,867.30 L1366.36,866.76 L1368.09,866.22 L1369.81,865.68 L1371.54,865.14 L1373.27,864.59 L1374.99,864.04 L1376.72,863.49 L1378.45,862.93 L1380.18,862.37 L1381.90,861.81 L1383.63,861.24 L1385.36,860.67 L1387.09,860.10 L1388.82,859.52 L1390.54,858.95 L1392.27,858.36 L1394.00,857.78 L1395.72,857.19 L1397.45,856.60 L1399.18,856.01 L1400.91,855.41 L1402.63,854.81 L1404.36,854.21 L1406.09,853.60 L1407.82,852.99 L1409.55,852.38 L1411.27,851.76 L1413.00,851.14 L1414.73,850.52 L1416.45,849.90 L1418.18,849.27 L1419.91,848.64 L1421.64,848.00 L1423.37,847.37 L1425.09,846.73 L1426.82,846.08 L1428.55,845.44 L1430.28,844.79 L1432.00,844.13 L1433.73,843.48 L1435.46,842.82 L1437.18,842.16 L1438.91,841.49 L1440.64,840.82 L1442.37,840.15 L1444.10,839.48 L1445.82,838.80 L1447.55,838.12 L1449.28,837.43 L1451.01,836.75 L1452.73,836.06 L1454.46,835.36 L1456.19,834.67 L1457.91,833.97 L1459.64,833.26 L1461.37,832.56 L1463.10,831.85 L1464.83,831.14 L1466.55,830.42 L1468.28,829.71 L1470.01,828.98 L1471.73,828.26 L1473.46,827.53 L1475.19,826.80 L1476.92,826.07 L1478.64,825.33 L1480.37,824.59 L1482.10,823.85 L1483.83,823.10 L1485.56,822.36 L1487.28,821.60 L1489.01,820.85 L1490.74,820.09 L1492.46,819.33 L1494.19,818.56 L1495.92,817.80 L1497.65,817.03 L1499.38,816.25 L1501.10,815.47 L1502.83,814.69 L1504.56,813.91 L1506.29,813.12 L1508.01,812.34 L1509.74,811.54 L1511.47,810.75 L1513.19,809.95 L1514.92,809.15 L1516.65,808.34 L1518.38,807.53 L1520.11,806.72 L1521.83,805.91 L1523.56,805.09 L1525.29,804.27 L1527.02,803.45 L1528.74,802.62 L1530.47,801.79 L1532.20,800.96 L1533.92,800.12 L1535.65,799.28 L1537.38,798.44 L1539.11,797.60 L1540.84,796.75 L1542.56,795.90 L1544.29,795.04 L1546.02,794.19 L1547.75,793.32 L1549.47,792.46 L1551.20,791.59 L1552.93,790.72 L1554.65,789.85 L1556.38,788.97 L1558.11,788.10 L1559.84,787.21 L1561.57,786.33 L1563.29,785.44 L1565.02,784.55 L1566.75,783.65 L1568.47,782.75 L1570.20,781.85 L1571.93,780.95 L1573.66,780.04 L1575.38,779.13 L1577.11,778.22 L1578.84,777.30 L1580.57,776.38 L1582.30,775.46 L1584.02,774.53 L1585.75,773.60 L1587.48,772.67 L1589.20,771.74 L1590.93,770.80 L1592.66,769.86 L1594.39,768.91 L1596.12,767.97 L1597.84,767.02 L1599.57,766.06 L1601.30,765.10 L1603.03,764.14 L1604.75,763.18 L1606.48,762.22 L1608.21,761.25 L1609.93,760.27 L1611.66,759.30 L1613.39,758.32 L1615.12,757.34 L1616.85,756.35 L1618.57,755.37 L1620.30,754.38 L1622.03,753.38 L1623.76,752.38 L1625.48,751.38 L1627.21,750.38 L1628.94,749.37 L1630.66,748.36 L1632.39,747.35 L1634.12,746.34 L1635.85,745.32 L1637.58,744.29 L1639.30,743.27 L1641.03,742.24 L1642.76,741.21 L1644.49,740.18 L1646.21,739.14 L1647.94,738.10 L1649.67,737.05 L1651.39,736.01 L1653.12,734.96 L1654.85,733.90 L1656.58,732.85 L1658.30,731.79 L1660.03,730.73 L1661.76,729.66 L1663.49,728.59 L1665.22,727.52 L1666.94,726.45 L1668.67,725.37 L1670.40,724.29 L1672.12,723.20 L1673.85,722.12 L1675.58,721.03 L1677.31,719.93 L1679.03,718.84 L1680.76,717.74 L1682.49,716.64 L1684.22,715.53 L1685.95,714.42 L1687.67,713.31 L1689.40,712.19 L1691.13,711.08 L1692.86,709.95 L1694.58,708.83 L1696.31,707.70 L1698.04,706.57 L1699.76,705.44 L1701.49,704.30 L1703.22,703.16 L1704.95,702.02 L1706.68,700.87 L1708.40,699.72 L1710.13,698.57 L1711.86,697.42 L1713.59,696.26 L1715.31,695.10 L1717.04,693.93 L1718.77,692.76 L1720.49,691.59 L1722.22,690.42 L1723.95,689.24 L1725.68,688.06 L1727.41,686.88 L1729.13,685.69 L1730.86,684.50 L1732.59,683.31 L1734.32,682.11 L1736.04,680.92 L1737.77,679.71 L1739.50,678.51 L1741.22,677.30 L1742.95,676.09 L1744.68,674.88 L1746.41,673.66 L1748.13,672.44 L1749.86,671.21 L1751.59,669.99 L1753.32,668.76 L1755.05,667.53 L1756.77,666.29 L1759.00,665.05" fill="none" stroke="#0000ff" stroke-width="5.5" stroke-linejoin="bevel" stroke-linecap="butt" stroke-dasharray="19.75 3.5 10 3.5" stroke-dashoffset="0"/>
</g>
<text transform="translate(143.86,204.57) scale(1.0,1.05)" font-family="'Liberation Sans', Arial, Helvetica, sans-serif" font-weight="normal" font-style="normal" font-size="45.83" fill="#262626" xml:space="preserve">0</text>
<text transform="translate(87.41,465.57) scale(1.0,1.05)" font-family="'Liberation Sans', Arial, Helvetica, sans-serif" font-weight="normal" font-style="normal" font-size="45.83" fill="#262626" xml:space="preserve">-2.5</text>
<text transform="translate(168.86,557.57) scale(1.0,1.05)" font-family="'Liberation Sans', Arial, Helvetica, sans-serif" font-weight="normal" font-style="normal" font-size="45.83" fill="#262626" xml:space="preserve">0</text>
<text transform="translate(477.56,557.57) scale(1.0,1.05)" font-family="'Liberation Sans', Arial, Helvetica, sans-serif" font-weight="normal" font-style="normal" font-size="45.83" fill="#262626" xml:space="preserve">0.5</text>
<text transform="translate(825.06,557.05) scale(1.0,1.05)" font-family="'Liberation Sans', Arial, Helvetica, sans-serif" font-weight="normal" font-style="normal" font-size="45.83" fill="#262626" clip-path="url(#one0)" xml:space="preserve">1</text>
<text transform="translate(144.30,675.27) scale(1.0,1.05)" font-family="'Liberation Sans', Arial, Helvetica, sans-serif" font-weight="normal" font-style="normal" font-size="45.83" fill="#262626" xml:space="preserve">5</text>
<text transform="translate(105.45,844.62) scale(1.0,1.05)" font-family="'Liberation Sans', Arial, Helvetica, sans-serif" font-weight="normal" font-style="normal" font-size="45.83" fill="#262626" xml:space="preserve">2.5</text>
<text transform="translate(143.81,1013.47) scale(1.0,1.05)" font-family="'Liberation Sans', Arial, Helvetica, sans-serif" font-weight="normal" font-style="normal" font-size="45.83" fill="#262626" xml:space="preserve">0</text>
<text transform="translate(168.86,1053.52) scale(1.0,1.05)" font-family="'Liberation Sans', Arial, Helvetica, sans-serif" font-weight="normal" font-style="normal" font-size="45.83" fill="#262626" xml:space="preserve">0</text>
<text transform="translate(477.56,1053.52) scale(1.0,1.05)" font-family="'Liberation Sans', Arial, Helvetica, sans-serif" font-weight="normal" font-style="normal" font-size="45.83" fill="#262626" xml:space="preserve">0.5</text>
<text transform="translate(825.06,1053.05) scale(1.0,1.05)" font-family="'Liberation Sans', Arial, Helvetica, sans-serif" font-weight="normal" font-style="normal" font-size="45.83" fill="#262626" clip-path="url(#one0)" xml:space="preserve">1</text>
<text transform="translate(988.72,114.62) scale(1.0,1.05)" font-family="'Liberation Sans', Arial, Helvetica, sans-serif" font-weight="normal" font-style="normal" font-size="45.83" fill="#262626" xml:space="preserve">0.4</text>
<text transform="translate(988.61,213.52) scale(1.0,1.05)" font-family="'Liberation Sans', Arial, Helvetica, sans-serif" font-weight="normal" font-style="normal" font-size="45.83" fill="#262626" xml:space="preserve">0.3</text>
<text transform="translate(988.90,312.47) scale(1.0,1.05)" font-family="'Liberation Sans', Arial, Helvetica, sans-serif" font-weight="normal" font-style="normal" font-size="45.83" fill="#262626" xml:space="preserve">0.2</text>
<text transform="translate(989.16,410.42) scale(1.0,1.05)" font-family="'Liberation Sans', Arial, Helvetica, sans-serif" font-weight="normal" font-style="normal" font-size="45.83" fill="#262626" clip-path="url(#one1)" xml:space="preserve">0.1</text>
<text transform="translate(1026.76,509.52) scale(1.0,1.05)" font-family="'Liberation Sans', Arial, Helvetica, sans-serif" font-weight="normal" font-style="normal" font-size="45.83" fill="#262626" xml:space="preserve">0</text>
<text transform="translate(1052.76,549.42) scale(1.0,1.05)" font-family="'Liberation Sans', Arial, Helvetica, sans-serif" font-weight="normal" font-style="normal" font-size="45.83" fill="#262626" xml:space="preserve">0</text>
<text transform="translate(1380.16,549.52) scale(1.0,1.05)" font-family="'Liberation Sans', Arial, Helvetica, sans-serif" font-weight="normal" font-style="normal" font-size="45.83" fill="#262626" xml:space="preserve">0.5</text>
<text transform="translate(1746.56,549.05) scale(1.0,1.05)" font-family="'Liberation Sans', Arial, Helvetica, sans-serif" font-weight="normal" font-style="normal" font-size="45.83" fill="#262626" clip-path="url(#one0)" xml:space="preserve">1</text>
<text transform="translate(1028.65,622.85) scale(1.0,1.05)" font-family="'Liberation Sans', Arial, Helvetica, sans-serif" font-weight="normal" font-style="normal" font-size="45.83" fill="#262626" xml:space="preserve">4</text>
<text transform="translate(1028.49,722.67) scale(1.0,1.05)" font-family="'Liberation Sans', Arial, Helvetica, sans-serif" font-weight="normal" font-style="normal" font-size="45.83" fill="#262626" xml:space="preserve">3</text>
<text transform="translate(1028.51,821.30) scale(1.0,1.05)" font-family="'Liberation Sans', Arial, Helvetica, sans-serif" font-weight="normal" font-style="normal" font-size="45.83" fill="#262626" xml:space="preserve">2</text>
<text transform="translate(1029.41,920.10) scale(1.0,1.05)" font-family="'Liberation Sans', Arial, Helvetica, sans-serif" font-weight="normal" font-style="normal" font-size="45.83" fill="#262626" clip-path="url(#one0)" xml:space="preserve">1</text>
<text transform="translate(1028.81,1020.47) scale(1.0,1.05)" font-family="'Liberation Sans', Arial, Helvetica, sans-serif" font-weight="normal" font-style="normal" font-size="45.83" fill="#262626" xml:space="preserve">0</text>
<text transform="translate(1053.86,1059.42) scale(1.0,1.05)" font-family="'Liberation Sans', Arial, Helvetica, sans-serif" font-weight="normal" font-style="normal" font-size="45.83" fill="#262626" xml:space="preserve">0</text>
<text transform="translate(1381.01,1059.57) scale(1.0,1.05)" font-family="'Liberation Sans', Arial, Helvetica, sans-serif" font-weight="normal" font-style="normal" font-size="45.83" fill="#262626" xml:space="preserve">0.5</text>
<text transform="translate(1747.26,1059.05) scale(1.0,1.05)" font-family="'Liberation Sans', Arial, Helvetica, sans-serif" font-weight="normal" font-style="normal" font-size="45.83" fill="#262626" clip-path="url(#one0)" xml:space="preserve">1</text>
<text transform="translate(781.13,476.48) scale(1.0281,1.0234)" font-family="'Liberation Sans', Arial, Helvetica, sans-serif" font-weight="bold" font-style="normal" font-size="52.08" fill="#000" xml:space="preserve">a.</text>
<text transform="translate(784.37,670.49) scale(0.9984,0.9962)" font-family="'Liberation Sans', Arial, Helvetica, sans-serif" font-weight="bold" font-style="normal" font-size="52.08" fill="#000" xml:space="preserve">b.</text>
<text transform="translate(1078.90,466.48) scale(0.9811,1.0199)" font-family="'Liberation Sans', Arial, Helvetica, sans-serif" font-weight="bold" font-style="normal" font-size="52.08" fill="#000" xml:space="preserve">c.</text>
<text transform="translate(1078.79,662.40) scale(0.9887,0.9936)" font-family="'Liberation Sans', Arial, Helvetica, sans-serif" font-weight="bold" font-style="normal" font-size="52.08" fill="#000" xml:space="preserve">d.</text>
<rect x="344.5" y="365.5" width="301" height="119" fill="#fff" stroke="#262626" stroke-width="1" shape-rendering="crispEdges"/>
<g shape-rendering="crispEdges" stroke-width="5.5"><line x1="350" y1="397" x2="397" y2="397" stroke="#ff0000"/><line x1="350" y1="453.5" x2="397" y2="453.5" stroke="#0000ff" stroke-dasharray="19 4 10 3 20 0"/></g>
<text transform="translate(401.29,414.63) scale(1.0044,1.05)" font-family="'Liberation Sans', Arial, Helvetica, sans-serif" font-weight="bold" font-style="normal" font-size="45.83" fill="#000" xml:space="preserve">t = 2.64 ms</text>
<text transform="translate(401.29,471.53) scale(1.0044,1.05)" font-family="'Liberation Sans', Arial, Helvetica, sans-serif" font-weight="bold" font-style="normal" font-size="45.83" fill="#000" xml:space="preserve">t = 4.84 ms</text>
<text transform="translate(1021.24,70.80) scale(1.0,1.05)" font-family="'Liberation Sans', Arial, Helvetica, sans-serif" font-weight="normal" font-style="normal" font-size="45.83" fill="#000" xml:space="preserve">Equilibrium current density j</text>
<text transform="translate(1592.71,92.20) scale(1.0,1.05)" font-family="'Liberation Sans', Arial, Helvetica, sans-serif" font-weight="normal" font-style="normal" font-size="35.7" fill="#000" xml:space="preserve">0</text>
<text transform="translate(1626.03,70.80) scale(1.0,1.05)" font-family="'Liberation Sans', Arial, Helvetica, sans-serif" font-weight="normal" font-style="normal" font-size="45.83" fill="#000" xml:space="preserve">[MA/m</text>
<text transform="translate(1763.80,46.80) scale(1.0,1.05)" font-family="'Liberation Sans', Arial, Helvetica, sans-serif" font-weight="normal" font-style="normal" font-size="35.7" fill="#000" xml:space="preserve">2</text>
<text transform="translate(1785.54,70.80) scale(1.0,1.05)" font-family="'Liberation Sans', Arial, Helvetica, sans-serif" font-weight="normal" font-style="normal" font-size="45.83" fill="#000" xml:space="preserve">]</text>
<text transform="translate(642.24,1053.98) scale(1.1528,1.1196)" font-family="'Liberation Serif', 'Times New Roman', Times, serif" font-weight="normal" font-style="italic" font-size="45.83" fill="#262626">ρ</text>
<text transform="translate(1544.24,1057.33) scale(1.1528,1.0940)" font-family="'Liberation Serif', 'Times New Roman', Times, serif" font-weight="normal" font-style="italic" font-size="45.83" fill="#262626">ρ</text>
<text transform="translate(987.70,821.74) rotate(-90) scale(1.1467,1.0558)" font-family="'Liberation Serif', 'Times New Roman', Times, serif" font-weight="normal" font-style="italic" font-size="45.83" fill="#262626">q</text>
<text transform="translate(67.60,425.68) rotate(-90) scale(1.0675,1.0536)" font-family="'Liberation Serif', 'Times New Roman', Times, serif" font-weight="normal" font-style="italic" font-size="45.83" fill="#262626">d</text>
<text transform="translate(66.86,400.64) rotate(-90) scale(1.2800,1.0583)" font-family="'Liberation Serif', 'Times New Roman', Times, serif" font-weight="normal" font-style="italic" font-size="45.83" fill="#262626">B</text>
<text transform="translate(74.90,366.81) rotate(-90) scale(0.8131,0.7456)" font-family="'Liberation Serif', 'Times New Roman', Times, serif" font-weight="normal" font-style="italic" font-size="45.83" fill="#262626">r</text>
<text transform="translate(78.22,347.00) rotate(-90) scale(1.5000,1.5265)" font-family="'Liberation Serif', 'Times New Roman', Times, serif" font-weight="normal" font-style="normal" font-size="45.83" fill="#262626">/</text>
<text transform="translate(66.86,324.43) rotate(-90) scale(1.2348,1.0583)" font-family="'Liberation Serif', 'Times New Roman', Times, serif" font-weight="normal" font-style="italic" font-size="45.83" fill="#262626">B</text>
<text transform="translate(74.67,291.48) rotate(-90) scale(0.7311,0.7405)" font-family="'Liberation Serif', 'Times New Roman', Times, serif" font-weight="normal" font-style="normal" font-size="45.83" fill="#262626">0</text>
<text transform="translate(71.33,270.43) rotate(-90) scale(0.7742,1.2338)" font-family="'Liberation Serif', 'Times New Roman', Times, serif" font-weight="normal" font-style="normal" font-size="45.83" fill="#262626">[</text>
<text transform="translate(67.00,259.87) rotate(-90) scale(0.9855,1.0246)" font-family="'Liberation Serif', 'Times New Roman', Times, serif" font-weight="normal" font-style="normal" font-size="45.83" fill="#262626">1</text>
<text transform="translate(67.34,236.78) rotate(-90) scale(1.0194,1.0250)" font-family="'Liberation Serif', 'Times New Roman', Times, serif" font-weight="normal" font-style="normal" font-size="45.83" fill="#262626">0</text>
<text transform="translate(55.13,214.14) rotate(-90) scale(0.9800,0.8762)" font-family="'Liberation Serif', 'Times New Roman', Times, serif" font-weight="normal" font-style="normal" font-size="45.83" fill="#262626">−</text>
<text transform="translate(50.90,188.64) rotate(-90) scale(0.7182,0.7658)" font-family="'Liberation Serif', 'Times New Roman', Times, serif" font-weight="normal" font-style="normal" font-size="45.83" fill="#262626">4</text>
<text transform="translate(71.33,170.90) rotate(-90) scale(0.6664,1.2338)" font-family="'Liberation Serif', 'Times New Roman', Times, serif" font-weight="normal" font-style="normal" font-size="45.83" fill="#262626">]</text>
<text transform="translate(76.23,866.78) rotate(-90) scale(1.2194,1.1041)" font-family="'Liberation Serif', 'Times New Roman', Times, serif" font-weight="normal" font-style="italic" font-size="45.83" fill="#262626">W</text>
<text transform="translate(47.00,848.92) rotate(-90) scale(0.7208,0.7924)" font-family="'Liberation Serif', 'Times New Roman', Times, serif" font-weight="normal" font-style="normal" font-size="45.83" fill="#262626">~</text>
<text transform="translate(79.42,812.30) rotate(-90) scale(0.6762,1.2365)" font-family="'Liberation Serif', 'Times New Roman', Times, serif" font-weight="normal" font-style="normal" font-size="45.83" fill="#262626">[</text>
<text transform="translate(76.00,803.02) rotate(-90) scale(0.9979,1.0610)" font-family="'Liberation Serif', 'Times New Roman', Times, serif" font-weight="normal" font-style="normal" font-size="45.83" fill="#262626">1</text>
<text transform="translate(76.42,779.57) rotate(-90) scale(1.0142,1.0671)" font-family="'Liberation Serif', 'Times New Roman', Times, serif" font-weight="normal" font-style="normal" font-size="45.83" fill="#262626">0</text>
<text transform="translate(58.90,756.52) rotate(-90) scale(0.6947,0.7260)" font-family="'Liberation Serif', 'Times New Roman', Times, serif" font-weight="normal" font-style="normal" font-size="45.83" fill="#262626">4</text>
<text transform="translate(79.39,737.92) rotate(-90) scale(0.6762,1.2417)" font-family="'Liberation Serif', 'Times New Roman', Times, serif" font-weight="normal" font-style="normal" font-size="45.83" fill="#262626">]</text>
</svg>
</body></html>
